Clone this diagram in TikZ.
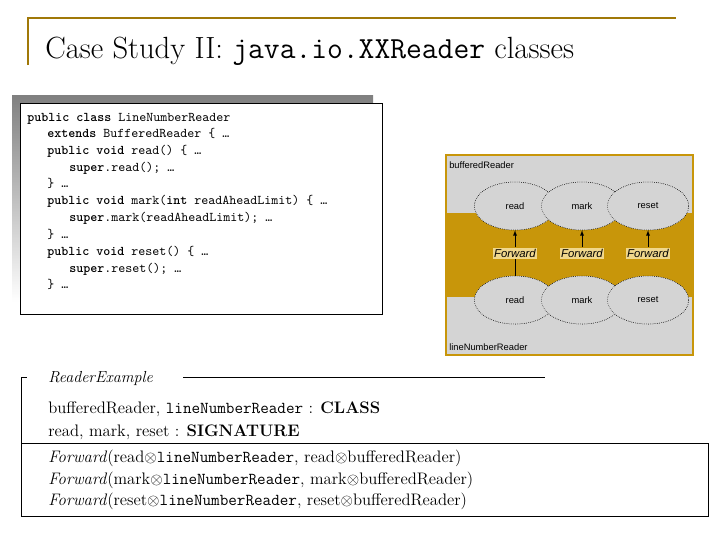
\documentclass[tikz,border=0pt]{standalone}
\usepackage{fontspec}
\usepackage{amssymb}
\newfontfamily\dsans{Liberation Sans}
\definecolor{gold}{RGB}{200,150,10}
\definecolor{panel}{RGB}{212,212,212}
\definecolor{shade}{RGB}{100,100,100}
\definecolor{hl}{RGB}{240,215,140}
\begin{document}
\begin{tikzpicture}[x=0.75pt,y=-0.75pt,
  code/.style={anchor=base west,font=\ttfamily\fontsize{10}{10}\selectfont,inner sep=0},
  ell/.style={ellipse,draw=black,densely dotted,fill=panel,minimum width=61pt,minimum height=36pt,font=\dsans\fontsize{7}{8}\selectfont,inner sep=0},
  fwd/.style={fill=hl,inner sep=1pt,font=\dsans\itshape\fontsize{8.5}{9}\selectfont},
  ex/.style={anchor=base west,font=\fontsize{12.5}{13}\selectfont,inner sep=0},
  lbl/.style={anchor=base west,font=\dsans\fontsize{7}{8}\selectfont,inner sep=0}]
\usetikzlibrary{shapes.geometric}
\useasboundingbox (0,0) rectangle (720,540);
% title
\draw[gold!80!black,line width=0.8pt] (28,65) -- (28,18) -- (676,18);
\node[anchor=base west,inner sep=0,font=\fontsize{23}{24}\selectfont] (title) at (45,58)
 {Case Study II: \texttt{java.io.XXReader} classes};
% code box
\fill[shade] (12,95) rectangle (373,302);
\draw[fill=white] (20,103) rectangle (382,314);
\node[code] (c1) at (27,121) {\textbf{public class} LineNumberReader};
\node[code] (c2) at (47,137) {\textbf{extends} BufferedReader \{ \ldots};
\node[code] (c3) at (47,154) {\textbf{public void} read() \{ \ldots};
\node[code] (c4) at (69,171) {\textbf{super}.read(); \ldots};
\node[code] (c5) at (47,187) {\} \ldots};
\node[code] (c6) at (47,204) {\textbf{public void} mark(\textbf{int} readAheadLimit) \{ \ldots};
\node[code] (c7) at (69,221) {\textbf{super}.mark(readAheadLimit); \ldots};
\node[code] (c8) at (47,238) {\} \ldots};
\node[code] (c9) at (47,255) {\textbf{public void} reset() \{ \ldots};
\node[code] (c10) at (69,272) {\textbf{super}.reset(); \ldots};
\node[code] (c11) at (47,288) {\} \ldots};
% right diagram
\draw[gold,line width=1.5pt,fill=panel] (446,155) rectangle (693,355);
\fill[gold] (447,213) rectangle (692,297);
\node[lbl] (bl) at (449,168) {bufferedReader};
\node[lbl] (ll) at (449,350) {lineNumberReader};
\foreach \n/\x in {r/515,m/582,s/648}{
  \node[ell] (t\n) at (\x,206) {};
  \node[ell] (b\n) at (\x,300) {};
}
\node[ell] at (tr) {read};\node[ell] at (tm) {mark};\node[ell] at (ts) {reset};
\node[ell] at (br) {read};\node[ell] at (bm) {mark};\node[ell] at (bs) {reset};
\node[fwd] (fr) at (515,253) {Forward};
\node[fwd] (fm) at (582,253) {Forward};
\node[fwd] (fs) at (648,253) {Forward};
\foreach \n in {r,m,s}{\draw[-latex] (f\n.north) -- (t\n.south);}
\draw (br.north) -- (fr.south);
% example
\draw (21,515) -- (21,377) -- (27,377);
\draw (183,377) -- (545,377);
\node[ex,font=\itshape\fontsize{12}{12}\selectfont] (rt) at (48,382) {ReaderExample};
\draw (21,443) rectangle (708,516);
\node[ex] (e1) at (48,413) {bufferedReader, \texttt{lineNumberReader} : \textbf{CLASS}};
\node[ex] (e2) at (48,436) {read, mark, reset : \textbf{SIGNATURE}};
\node[ex] (e3) at (48,462) {\textit{Forward}(read$\otimes$\texttt{lineNumberReader}, read$\otimes$bufferedReader)};
\node[ex] (e4) at (48,484) {\textit{Forward}(mark$\otimes$\texttt{lineNumberReader}, mark$\otimes$bufferedReader)};
\node[ex] (e5) at (48,505) {\textit{Forward}(reset$\otimes$\texttt{lineNumberReader}, reset$\otimes$bufferedReader)};
\end{tikzpicture}
\end{document}
